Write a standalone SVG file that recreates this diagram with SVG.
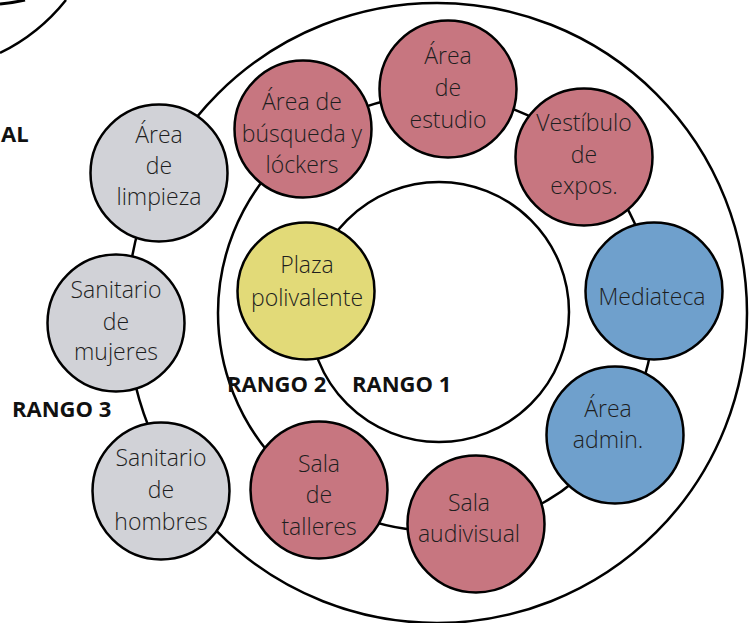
<svg xmlns="http://www.w3.org/2000/svg" width="752" height="623" viewBox="0 0 752 623">
  <defs>
    <style>
      .ring { fill: none; stroke: #000; stroke-width: 2.5; }
      .node { stroke: #000; stroke-width: 2.5; }
      .pink { fill: #C77680; }
      .gray { fill: #D1D2D7; }
      .blue { fill: #6FA0CC; }
      .yellow { fill: #E2DA78; }
      .lbl { font-family: "Open Sans", "Noto Sans", "Liberation Sans", sans-serif; font-weight: 300; font-size: 23px; fill: #1E1E1E; text-anchor: middle; }
      .rango { font-family: "Open Sans", "Liberation Sans", sans-serif; font-weight: 700; font-size: 22px; fill: #111; }
    </style>
  </defs>
  <rect x="0" y="0" width="752" height="623" fill="#fff"/>

  <!-- partial shape cut off at top-left -->
  <g id="corner">
    <path d="M0,4 Q12,3 25,0" fill="none" stroke="#000" stroke-width="3"/>
    <path d="M0,53 A192,192 0 0 0 66,0" class="ring"/>
    <text x="1" y="142" class="rango">AL</text>
  </g>

  <!-- rings / connectors -->
  <g id="connectors">
    <circle cx="437" cy="313" r="310" class="ring"/>
    <circle cx="436" cy="313" r="218" class="ring"/>
    <circle cx="439" cy="312" r="130" class="ring" fill="#fff"/>
  </g>

  <g id="labels">
    <text x="12" y="417" class="rango">RANGO 3</text>
    <text x="227" y="392" class="rango">RANGO 2</text>
    <text x="352" y="392" class="rango">RANGO 1</text>
  </g>

  <!-- RANGO 3 nodes -->
  <g id="area-limpieza">
    <circle cx="159" cy="173" r="68.5" class="node gray"/>
    <text class="lbl"><tspan x="159" y="143">Área</tspan><tspan x="159" y="174">de</tspan><tspan x="159" y="205">limpieza</tspan></text>
  </g>
  <g id="sanitario-mujeres">
    <circle cx="116" cy="323" r="68.5" class="node gray"/>
    <text class="lbl"><tspan x="116" y="298">Sanitario</tspan><tspan x="116" y="330">de</tspan><tspan x="116" y="360">mujeres</tspan></text>
  </g>
  <g id="sanitario-hombres">
    <circle cx="161" cy="491" r="68.5" class="node gray"/>
    <text class="lbl"><tspan x="161" y="466">Sanitario</tspan><tspan x="161" y="498">de</tspan><tspan x="161" y="530">hombres</tspan></text>
  </g>

  <!-- RANGO 2 nodes -->
  <g id="area-busqueda">
    <circle cx="303" cy="129" r="68.5" class="node pink"/>
    <text class="lbl"><tspan x="302" y="110">Área de</tspan><tspan x="302" y="142">búsqueda y</tspan><tspan x="302" y="173">lóckers</tspan></text>
  </g>
  <g id="area-estudio">
    <circle cx="448" cy="89" r="68.5" class="node pink"/>
    <text class="lbl"><tspan x="448" y="64">Área</tspan><tspan x="448" y="96">de</tspan><tspan x="448" y="128">estudio</tspan></text>
  </g>
  <g id="vestibulo">
    <circle cx="584" cy="157" r="68.5" class="node pink"/>
    <text class="lbl"><tspan x="584" y="131">Vestíbulo</tspan><tspan x="584" y="163">de</tspan><tspan x="584" y="194">expos.</tspan></text>
  </g>
  <g id="mediateca">
    <circle cx="654" cy="291" r="68.5" class="node blue"/>
    <text class="lbl" x="652" y="305">Mediateca</text>
  </g>
  <g id="area-admin">
    <circle cx="615" cy="435" r="68.5" class="node blue"/>
    <text class="lbl"><tspan x="608" y="417">Área</tspan><tspan x="608" y="448">admin.</tspan></text>
  </g>
  <g id="sala-audiovisual">
    <circle cx="476" cy="524" r="68.5" class="node pink"/>
    <text class="lbl"><tspan x="469" y="511">Sala</tspan><tspan x="469" y="542">audivisual</tspan></text>
  </g>
  <g id="sala-talleres">
    <circle cx="319" cy="490" r="68.5" class="node pink"/>
    <text class="lbl"><tspan x="319" y="472">Sala</tspan><tspan x="319" y="503">de</tspan><tspan x="319" y="535">talleres</tspan></text>
  </g>

  <!-- RANGO 1 node -->
  <g id="plaza-polivalente">
    <circle cx="306" cy="291" r="68.5" class="node yellow"/>
    <text class="lbl"><tspan x="307" y="273">Plaza</tspan><tspan x="307" y="306">polivalente</tspan></text>
  </g>
</svg>
